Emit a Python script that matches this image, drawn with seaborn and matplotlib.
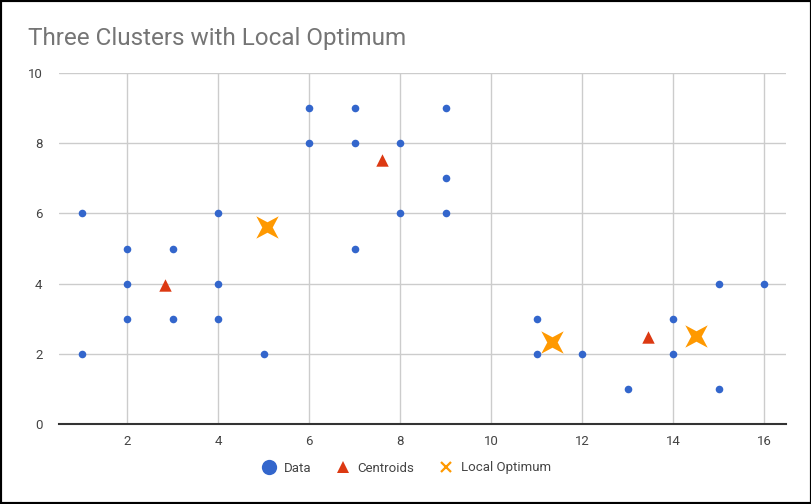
import matplotlib
matplotlib.use("Agg")
import numpy as np
import matplotlib.pyplot as plt
import seaborn as sns
import pandas as pd
from matplotlib.lines import Line2D
from matplotlib.patches import Rectangle
from matplotlib.path import Path

data_x = [1, 1, 2, 2, 2, 3, 3, 4, 4, 4, 5, 6, 6, 7, 7, 7, 8, 8, 9, 9, 9, 11, 11, 12, 13, 14, 14, 15, 15, 16]
data_y = [6, 2, 5, 4, 3, 5, 3, 6, 4, 3, 2, 9, 8, 9, 8, 5, 8, 6, 9, 7, 6, 3, 2, 2, 1, 3, 2, 4, 1, 4]
cent_x = [2.82, 7.6, 13.45]
cent_y = [3.95, 7.52, 2.48]
opt_x = [5.08, 11.33, 14.5]
opt_y = [5.6, 2.33, 2.5]
x_ticks = [2, 4, 6, 8, 10, 12, 14, 16]
y_ticks = [0, 2, 4, 6, 8, 10]

BLUE = "#3366cc"
RED = "#dc3912"
ORANGE = "#ff9900"
TXT = "#757575"

# four-pointed sparkle marker
angles = np.deg2rad(np.arange(8) * 45 + 45)
radii = np.array([1.0, 0.33] * 4)
verts = np.column_stack([radii * np.cos(angles), radii * np.sin(angles)])
verts = np.vstack([verts, verts[:1]])
codes = [Path.MOVETO] + [Path.LINETO] * 7 + [Path.CLOSEPOLY]
STAR = Path(verts, codes)

sns.set_theme(style="white")
plt.rcParams["font.family"] = ["Roboto", "DejaVu Sans"]

fig = plt.figure(figsize=(8.12, 5.04), dpi=100)
ax = fig.add_axes([59/812, 1-424/504, (786-59)/812, (424-73)/504])

df_data = pd.DataFrame({"x": data_x, "y": data_y})
df_cent = pd.DataFrame({"x": cent_x, "y": cent_y})
df_opt = pd.DataFrame({"x": opt_x, "y": opt_y})

sns.scatterplot(data=df_data, x="x", y="y", ax=ax, color=BLUE, s=30, linewidth=0, zorder=3)
sns.scatterplot(data=df_cent, x="x", y="y", ax=ax, color=RED, marker="^", s=80, linewidth=0, zorder=3)
sns.scatterplot(data=df_opt, x="x", y="y", ax=ax, color=ORANGE, marker=STAR, s=260, linewidth=0, zorder=4)

ax.set_xlim(0.5, 16.48)
ax.set_ylim(0, 10)
ax.set_xticks(x_ticks)
ax.set_yticks(y_ticks)
ax.set_xlabel("")
ax.set_ylabel("")
ax.grid(True, color="#cccccc", linewidth=1)
ax.set_axisbelow(True)
for s in ["top", "right", "left"]:
    ax.spines[s].set_visible(False)
ax.spines["bottom"].set_color("#333333")
ax.spines["bottom"].set_linewidth(1.5)
ax.spines["bottom"].set_zorder(5)
ax.tick_params(axis="both", length=0, labelsize=9.5, labelcolor="#444444")
ax.tick_params(axis="x", pad=8)
ax.tick_params(axis="y", pad=12)

fig.text(28/812, 1-38/504, "Three Clusters with Local Optimum", fontsize=17.5,
         color=TXT, ha="left", va="center")

handles = [
    Line2D([], [], marker="o", color=BLUE, linestyle="none", markersize=11, markeredgewidth=0),
    Line2D([], [], marker="^", color=RED, linestyle="none", markersize=9, markeredgewidth=0),
    Line2D([], [], marker="x", color=ORANGE, linestyle="none", markersize=7, markeredgewidth=1.6),
]
fig.legend(handles, ["Data", "Centroids", "Local Optimum"], loc="center",
           bbox_to_anchor=(0.5, 1-468/504), ncol=3, frameon=False, fontsize=9.5,
           labelcolor="#444444", handletextpad=0.5, columnspacing=1.8, handlelength=1.2)

fig.patches.append(Rectangle((0, 0), 1, 1, transform=fig.transFigure, fill=False,
                             edgecolor="black", linewidth=3, zorder=10))

fig.savefig("out.png", dpi=100)
